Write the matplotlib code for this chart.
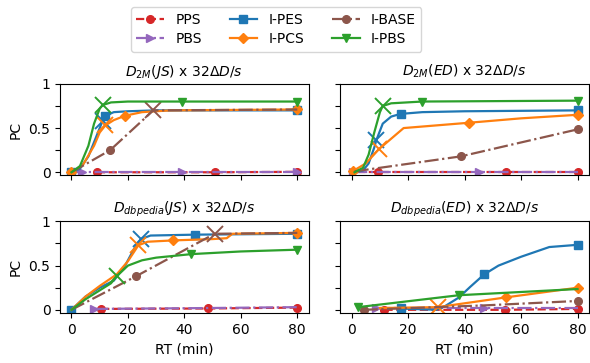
import matplotlib
matplotlib.use("Agg")
import matplotlib.pyplot as plt

# series order, colours and styles
series_names = ["PPS", "PBS", "I-PES", "I-PCS", "I-BASE", "I-PBS"]
series_colors = ["tab:red", "tab:purple", "tab:blue", "tab:orange", "tab:brown", "tab:green"]
series_markers = ["o", ">", "s", "D", "o", "v"]
series_styles = ["--", "-.", "-", "-", "-.", "-"]

panel_titles = [r"$D_{2M}(JS)$ x 32$\Delta D/s$",
                r"$D_{2M}(ED)$ x 32$\Delta D/s$",
                r"$D_{dbpedia}(JS)$ x 32$\Delta D/s$",
                r"$D_{dbpedia}(ED)$ x 32$\Delta D/s$"]

# each entry: (RT values, PC values, marker indices, index of the "x" point or None)
d2m_js = {
    "PPS": ([9, 51, 80], [0.0, 0.0, 0.005], [0, 1, 2], None),
    "PBS": ([0, 3.7, 39, 80], [0.0, 0.0, 0.0, 0.0], [1, 2, 3], None),
    "I-PES": ([0, 3, 6, 9, 11, 12, 15, 20, 30, 80],
              [0.0, 0.04, 0.18, 0.42, 0.58, 0.64, 0.68, 0.69, 0.70, 0.70], [0, 5, 9], 4),
    "I-PCS": ([0, 4, 8, 10, 12, 15, 19, 25, 35, 80],
              [0.0, 0.08, 0.3, 0.45, 0.53, 0.59, 0.64, 0.68, 0.70, 0.71], [0, 6, 9], 4),
    "I-BASE": ([0, 13.7, 29, 80], [0.0, 0.25, 0.70, 0.71], [1], 2),
    "I-PBS": ([0, 3, 6, 8, 10, 11, 14, 20, 39, 80],
              [0.0, 0.07, 0.3, 0.55, 0.72, 0.76, 0.79, 0.80, 0.80, 0.80], [8, 9], 5),
}

d2m_ed = {
    "PPS": ([2, 9.4, 54.5, 80], [0.0, 0.0, 0.0, 0.0], [1, 2, 3], None),
    "PBS": ([0.5, 45, 80], [0.0, 0.0, 0.0], [0, 1], None),
    "I-PES": ([1, 4, 6, 8, 8.7, 11, 14, 17.3, 25, 40, 80],
              [0.0, 0.02, 0.1, 0.28, 0.36, 0.55, 0.63, 0.66, 0.68, 0.69, 0.70], [7, 10], 4),
    "I-PCS": ([0.5, 5, 9.6, 18.4, 41.5, 60, 80],
              [0.015, 0.1, 0.26, 0.50, 0.56, 0.61, 0.65], [0, 4, 6], 2),
    "I-BASE": ([1, 38.7, 80], [0.01, 0.18, 0.485], [1, 2], None),
    "I-PBS": ([1, 4, 6, 8, 10, 11, 14, 25, 80],
              [0.0, 0.05, 0.2, 0.45, 0.68, 0.75, 0.78, 0.80, 0.81], [7, 8], 5),
}

dbp_js = {
    "PPS": ([10.5, 48.3, 80], [0.01, 0.015, 0.025], [0, 1, 2], None),
    "PBS": ([8, 48, 80], [0.01, 0.02, 0.03], [0], None),
    "I-PES": ([0, 5, 10, 15, 19, 22, 24.6, 28, 43.7, 80],
              [0.0, 0.15, 0.25, 0.33, 0.5, 0.68, 0.80, 0.84, 0.85, 0.86], [0, 8, 9], 6),
    "I-PCS": ([0, 5, 10, 16, 20, 23.7, 27, 36, 50, 55, 57, 80],
              [0.0, 0.15, 0.27, 0.40, 0.55, 0.73, 0.77, 0.785, 0.80, 0.81, 0.86, 0.87], [7, 11], 5),
    "I-BASE": ([0, 22.9, 50.7, 80], [0.0, 0.38, 0.86, 0.87], [1], 2),
    "I-PBS": ([0, 5, 10, 14, 16, 20, 25, 30, 42.5, 60, 80],
              [0.0, 0.12, 0.22, 0.30, 0.38, 0.50, 0.56, 0.59, 0.63, 0.66, 0.68], [8, 10], 4),
}

dbp_ed = {
    "PPS": ([11.6, 54.2, 80], [0.0, 0.0, 0.01], [0, 1, 2], None),
    "PBS": ([8.7, 47, 80], [0.02, 0.02, 0.02], [0, 1], None),
    "I-PES": ([17.3, 30, 33, 38, 42, 46.9, 52, 60, 70, 80],
              [0.015, 0.0, 0.04, 0.14, 0.26, 0.40, 0.50, 0.60, 0.71, 0.735], [0, 5, 9], None),
    "I-PCS": ([10, 30.4, 54.5, 80], [0.02, 0.03, 0.14, 0.25], [2, 3], 1),
    "I-BASE": ([4.2, 47, 80], [0.0, 0.05, 0.10], [0, 2], None),
    "I-PBS": ([2.2, 38, 80], [0.03, 0.165, 0.235], [0, 1], None),
}

panels = [d2m_js, d2m_ed, dbp_js, dbp_ed]


def draw_panel(ax, data, title):
    for name, color, mk, ls in zip(series_names, series_colors,
                                   series_markers, series_styles):
        xs, ys, marks, cross = data[name]
        size = 6 if mk == "s" else 5.5
        ax.plot(xs, ys, color=color, linestyle=ls, linewidth=1.6,
                marker=mk, markersize=size, markevery=marks, label=name)
        if cross is not None:
            ax.plot(xs[cross], ys[cross], marker="x", color=color,
                    markersize=12, markeredgewidth=1.4, linestyle="none")
    ax.set_title(title, fontsize=10)
    ax.set_xlim(-4, 84)
    ax.set_ylim(-0.035, 1.0)
    ax.set_xticks([0, 20, 40, 60, 80])
    ax.set_yticks([0, 0.25, 0.5, 0.75, 1])
    ax.set_yticklabels(["0", "", "0.5", "", "1"])
    ax.tick_params(labelsize=10)


fig, axes = plt.subplots(2, 2, figsize=(5.9, 3.63), dpi=100,
                         sharex=True, sharey=True)
for ax, data, title in zip(axes.flat, panels, panel_titles):
    draw_panel(ax, data, title)

axes[0, 0].set_ylabel("PC", fontsize=10)
axes[1, 0].set_ylabel("PC", fontsize=10)
axes[1, 0].set_xlabel("RT (min)", fontsize=10)
axes[1, 1].set_xlabel("RT (min)", fontsize=10)

handles, labels = axes[0, 0].get_legend_handles_labels()
fig.legend(handles, labels, loc="upper center", bbox_to_anchor=(0.468, 1.0),
           ncol=3, fontsize=10, handlelength=2.0, columnspacing=2.0,
           borderpad=0.4, labelspacing=0.4)

plt.subplots_adjust(left=0.102, right=0.998, bottom=0.138, top=0.769,
                    wspace=0.128, hspace=0.503)
plt.savefig("out.png", dpi=100)
